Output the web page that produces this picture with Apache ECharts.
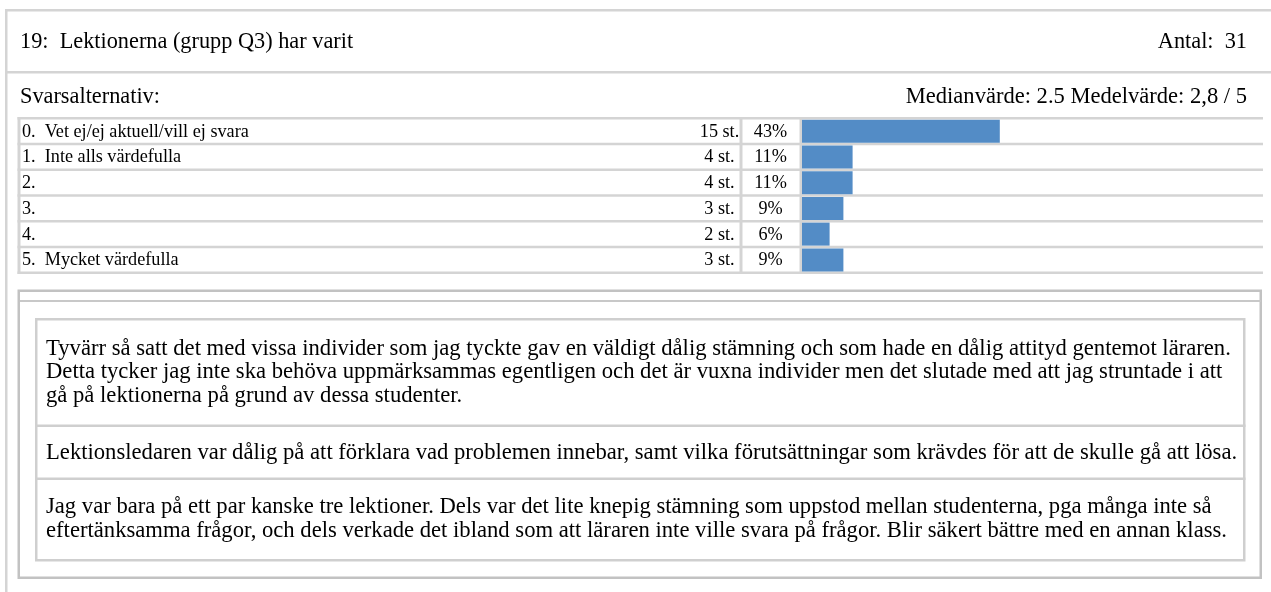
<!DOCTYPE html>
<html><head><meta charset="utf-8">
<script src="https://cdn.jsdelivr.net/npm/echarts@6/dist/echarts.min.js"></script>
<style>html,body{margin:0;padding:0;background:#fff}#c{width:1271px;height:592px}</style>
</head><body><div id="c"></div>
<script>
// ---- data ----
const questionTitle = '19:  Lektionerna (grupp Q3) har varit';
const totalLabel = 'Antal:  31';
const subTitle = 'Svarsalternativ:';
const statsLabel = 'Medianvärde: 2.5 Medelvärde: 2,8 / 5';
const categories = ['0.  Vet ej/ej aktuell/vill ej svara', '1.  Inte alls värdefulla', '2.', '3.', '4.', '5.  Mycket värdefulla'];
const counts = [15, 4, 4, 3, 2, 3];
const percents = [43, 11, 11, 9, 6, 9];
const comments = [
  'Tyvärr så satt det med vissa individer som jag tyckte gav en väldigt dålig stämning och som hade en dålig attityd gentemot läraren.\nDetta tycker jag inte ska behöva uppmärksammas egentligen och det är vuxna individer men det slutade med att jag struntade i att\ngå på lektionerna på grund av dessa studenter.',
  'Lektionsledaren var dålig på att förklara vad problemen innebar, samt vilka förutsättningar som krävdes för att de skulle gå att lösa.',
  'Jag var bara på ett par kanske tre lektioner. Dels var det lite knepig stämning som uppstod mellan studenterna, pga många inte så\neftertänksamma frågor, och dels verkade det ibland som att läraren inte ville svara på frågor. Blir säkert bättre med en annan klass.'
];

// ---- layout ----
const FONT = '"Liberation Serif","Times New Roman",serif';
const GRAY = '#d4d4d4';
const DARK = '#c2c2c2';
const tableTop = 117, rowPitch = 25.75, band = 2.5;
const tableLeft = 17.5, tableRight = 1263;
const colSep1 = 739.5, colSep2 = 799.5;
const barLeft = 802;

const chart = echarts.init(document.getElementById('c'), null, {renderer: 'canvas'});
chart.setOption({
  animation: false,
  backgroundColor: '#fff',
  grid: {left: barLeft, top: tableTop + band / 2, width: 460, height: rowPitch * categories.length, containLabel: false},
  xAxis: {type: 'value', min: 0, max: 100, show: false},
  yAxis: {type: 'category', data: categories, inverse: true, show: false},
  series: [{type: 'bar', data: percents, barWidth: 23, itemStyle: {color: '#538cc6'}, silent: true}]
});

function rect(x, y, w, h, fill) {
  return {type: 'rect', silent: true, z: 1, shape: {x, y, width: w, height: h}, style: {fill}};
}
function text(x, y, str, size, align, extra) {
  return {type: 'text', silent: true, z: 2, x, y,
    style: Object.assign({text: str, fontFamily: FONT, fontSize: size, fill: '#000', align: align || 'left', verticalAlign: 'middle'}, extra || {})};
}

const g = [];
// outer frame
g.push(rect(5, 9, 1266, 2.5, GRAY));
g.push(rect(5, 9, 2.5, 583, GRAY));
g.push(rect(7, 71, 1264, 2.5, GRAY));
// header texts
g.push(text(20, 42, questionTitle, 22.3));
g.push(text(1247, 42, totalLabel, 22.3, 'right'));
g.push(text(20, 97, subTitle, 22.3));
g.push(text(1247, 97, statsLabel, 22.55, 'right'));

// table grid
const n = categories.length;
const tableBottom = tableTop + rowPitch * n;
for (let i = 0; i <= n; i++) {
  g.push(rect(tableLeft, tableTop + rowPitch * i, tableRight - tableLeft, band, GRAY));
}
g.push(rect(tableLeft, tableTop, 3, tableBottom - tableTop + band, GRAY));
g.push(rect(colSep1, tableTop, 3, tableBottom - tableTop + band, GRAY));
g.push(rect(colSep2, tableTop, 2.5, tableBottom - tableTop + band, GRAY));

// table texts positioned from the category axis
categories.forEach((c, i) => {
  const y = chart.convertToPixel({yAxisIndex: 0}, c) + 0.8;
  g.push(text(22, y, c, 18.2));
  g.push(text(719.5, y, counts[i] + ' st.', 18.2, 'center'));
  g.push(text(770.5, y, percents[i] + '%', 18.2, 'center'));
});

// comments frame
g.push({type: 'rect', silent: true, z: 1, shape: {x: 18.75, y: 290.75, width: 1242, height: 287}, style: {fill: null, stroke: DARK, lineWidth: 2.5}});
g.push(rect(20, 300, 1241, 2, '#c8c8c8'));
const cTop = 318, cLeft = 35, cRight = 1245.5, cBottom = 561.5;
const cellSeps = [424.5, 477.5];
g.push({type: 'rect', silent: true, z: 1, shape: {x: cLeft + 1.25, y: cTop + 1.25, width: cRight - cLeft - 2.5, height: cBottom - cTop - 2.5}, style: {fill: null, stroke: '#cfcfcf', lineWidth: 2.5}});
cellSeps.forEach(y => g.push(rect(cLeft, y, cRight - cLeft, 2.5, '#cfcfcf')));
const cellBounds = [cTop + 2.5, cellSeps[0] + 2.5, cellSeps[1] + 2.5];
const cellEnds = [cellSeps[0], cellSeps[1], cBottom - 2.5];
const cellOffsets = [0, 1, -0.5];
comments.forEach((t, i) => {
  const y = (cellBounds[i] + cellEnds[i]) / 2 + cellOffsets[i];
  g.push(text(46, y, t, 22.65, 'left', {lineHeight: 23.3}));
});

chart.setOption({graphic: {elements: g}});
</script></body></html>
